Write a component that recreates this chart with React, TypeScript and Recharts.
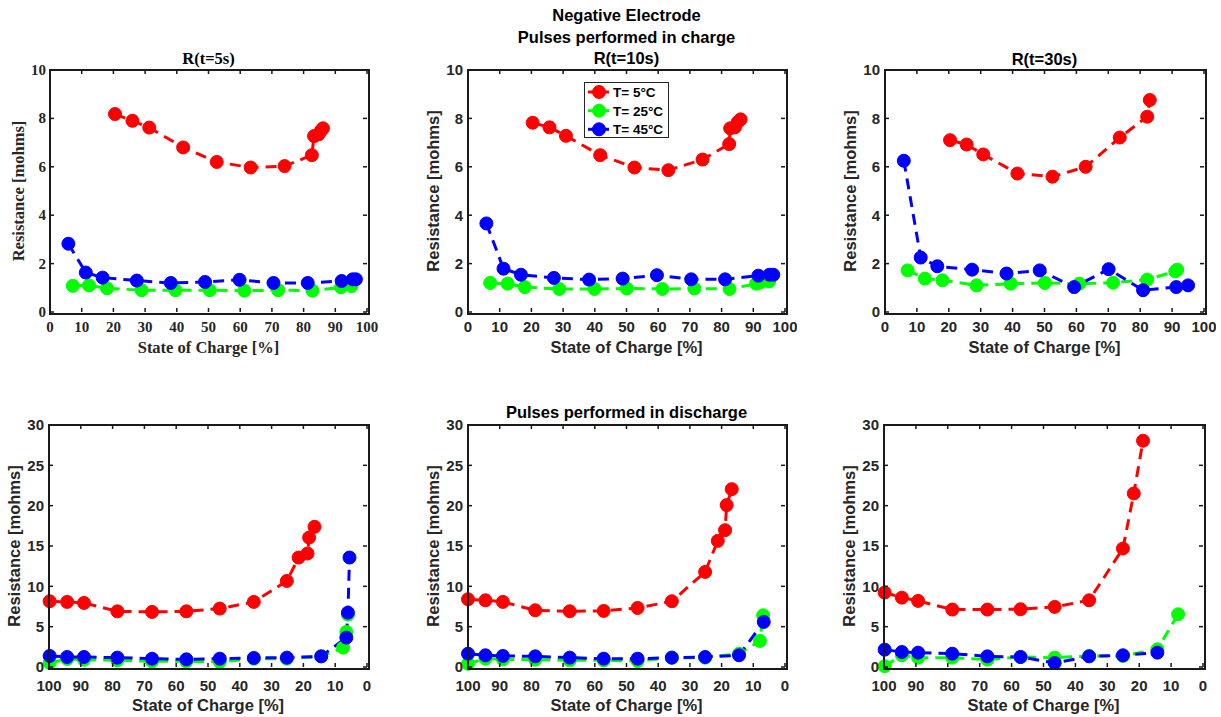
import React from 'react';
import { LineChart, Line, XAxis, YAxis } from 'recharts';

const SANS = '"Liberation Sans", Arial, Helvetica, sans-serif';
const SERIF = '"Liberation Serif", "Times New Roman", Times, serif';
const INK = '#262626';
const FRAME = '#1a1a1a';

const seriesNames = ['T= 5°C', 'T= 25°C', 'T= 45°C'];
const seriesColors = ['#ff0000', '#00ff00', '#0000ff'];

const socTicks = [0, 10, 20, 30, 40, 50, 60, 70, 80, 90, 100];
const chargeRTicks = [0, 2, 4, 6, 8, 10];
const dischargeRTicks = [0, 5, 10, 15, 20, 25, 30];

// ---- Pulses in charge, R(t=5s)
const c5_T5_soc = [20.5, 26, 31.3, 42, 52.6, 63.3, 74, 82.6, 83.3, 84.7, 85.5, 86.1];
const c5_T5_R = [8.18, 7.9, 7.62, 6.8, 6.2, 5.97, 6.03, 6.48, 7.27, 7.34, 7.49, 7.59];
const c5_T25_soc = [7.2, 12.3, 18, 28.9, 39.6, 50.4, 61.3, 72, 82.8, 91.8, 95.1];
const c5_T25_R = [1.08, 1.1, 0.98, 0.9, 0.9, 0.9, 0.88, 0.9, 0.88, 1.02, 1.07];
const c5_T45_soc = [5.8, 11.3, 16.6, 27.4, 38.1, 48.9, 59.8, 70.5, 81.3, 92, 95.5, 96.5];
const c5_T45_R = [2.82, 1.63, 1.42, 1.3, 1.2, 1.24, 1.33, 1.2, 1.2, 1.28, 1.35, 1.35];

// ---- Pulses in charge, R(t=10s)
const c10_T5_soc = [20.4, 25.7, 30.9, 41.7, 52.5, 63.2, 74, 82.4, 82.7, 84.2, 85.1, 86];
const c10_T5_R = [7.82, 7.63, 7.28, 6.48, 5.97, 5.86, 6.3, 6.94, 7.59, 7.63, 7.85, 7.96];
const c10_T25_soc = [7.0, 12.5, 17.9, 28.8, 39.9, 50.1, 61.3, 71.4, 82.5, 90.9, 92.1, 95];
const c10_T25_R = [1.2, 1.17, 1.03, 0.95, 0.95, 0.97, 0.95, 0.97, 0.95, 1.17, 1.21, 1.26];
const c10_T45_soc = [5.8, 11.2, 16.7, 27.1, 38.2, 48.8, 59.6, 70.4, 81.1, 91.6, 95.1, 96.3];
const c10_T45_R = [3.66, 1.79, 1.54, 1.41, 1.34, 1.38, 1.52, 1.35, 1.35, 1.5, 1.54, 1.54];

// ---- Pulses in charge, R(t=30s)
const c30_T5_soc = [20.4, 25.6, 30.8, 41.5, 52.5, 62.9, 73.6, 82.2, 83];
const c30_T5_R = [7.1, 6.92, 6.51, 5.72, 5.59, 6.0, 7.21, 8.07, 8.76];
const c30_T25_soc = [7.1, 12.5, 18, 28.7, 39.4, 50.1, 60.9, 71.5, 82.2, 91, 91.6];
const c30_T25_R = [1.72, 1.38, 1.31, 1.1, 1.17, 1.2, 1.17, 1.21, 1.34, 1.68, 1.75];
const c30_T45_soc = [5.9, 11.2, 16.4, 27.3, 38.1, 48.5, 59.3, 70.1, 80.9, 91.3, 95];
const c30_T45_R = [6.25, 2.25, 1.89, 1.75, 1.59, 1.72, 1.03, 1.77, 0.9, 1.03, 1.1];

// ---- Pulses in discharge, R(t=5s)
const d5_T5_soc = [99.8, 94.3, 89, 78.5, 67.6, 56.8, 46.3, 35.6, 25.2, 21.5, 18.7, 18.2, 16.5];
const d5_T5_R = [8.15, 8.07, 7.94, 6.9, 6.83, 6.9, 7.24, 8.07, 10.67, 13.57, 14.07, 16.05, 17.38];
const d5_T25_soc = [99.8, 94.3, 89, 78.5, 67.6, 56.8, 46.3, 35.6, 25.2, 14.4, 7.5, 6.5, 6.0];
const d5_T25_R = [0.5, 1.0, 0.9, 0.83, 0.7, 0.7, 0.62, 1.03, 1.03, 1.32, 2.4, 4.35, 6.5];
const d5_T45_soc = [99.8, 94.3, 89, 78.5, 67.6, 56.8, 46.3, 35.6, 25.2, 14.4, 6.5, 6.0, 5.5];
const d5_T45_R = [1.37, 1.24, 1.24, 1.16, 1.03, 0.95, 1.03, 1.12, 1.16, 1.32, 3.64, 6.74, 13.57];

// ---- Pulses in discharge, R(t=10s)
const d10_T5_soc = [100, 94.5, 89, 78.8, 67.9, 57.2, 46.5, 35.7, 25.2, 21.2, 18.9, 18.4, 16.8];
const d10_T5_R = [8.4, 8.27, 8.07, 7.03, 6.91, 6.95, 7.32, 8.15, 11.79, 15.64, 16.96, 20.07, 22.05];
const d10_T25_soc = [100, 94.5, 89, 78.8, 67.9, 57.2, 46.5, 35.7, 25.2, 14.5, 7.9, 6.9];
const d10_T25_R = [0.41, 1.03, 0.95, 0.91, 0.83, 0.83, 0.74, 1.16, 1.16, 1.65, 3.23, 6.41];
const d10_T45_soc = [100, 94.5, 89, 78.8, 67.9, 57.2, 46.5, 35.7, 25.2, 14.5, 6.7];
const d10_T45_R = [1.65, 1.45, 1.37, 1.32, 1.16, 1.03, 1.03, 1.16, 1.24, 1.45, 5.59];

// ---- Pulses in discharge, R(t=30s)
const d30_T5_soc = [99.8, 94.4, 89.3, 78.6, 67.6, 57.2, 46.5, 35.7, 25.1, 21.7, 18.8];
const d30_T5_R = [9.23, 8.6, 8.19, 7.12, 7.12, 7.16, 7.45, 8.27, 14.69, 21.51, 28.05];
const d30_T25_soc = [99.8, 94.4, 89.3, 78.6, 67.6, 57.2, 46.5, 35.7, 25.1, 14.3, 7.8];
const d30_T25_R = [0.1, 1.45, 1.16, 1.16, 0.91, 1.24, 1.16, 1.37, 1.37, 2.19, 6.54];
const d30_T45_soc = [99.8, 94.4, 89.3, 78.6, 67.6, 57.2, 46.5, 35.7, 25.1, 14.3];
const d30_T45_R = [2.15, 1.86, 1.78, 1.65, 1.32, 1.24, 0.5, 1.32, 1.45, 1.78];

type PanelProps = {
  left: number;
  top: number;
  w: number;
  h: number;
  font: string;
  yDomain: [number, number];
  yTicks: number[];
  reversed: boolean;
  socs: number[][];
  rs: number[][];
  xBase: number;
  yGap: number;
};

const ML = 60;
const MT = 12;
const MR = 12;
const MB = 40;
const TL = 4;

function Panel(p: PanelProps) {
  const series = p.socs.map((s, i) => s.map((x, j) => ({ x, y: p.rs[i][j] })));
  const plotTop = MT;
  const plotBottom = MT + p.h;
  const plotLeft = ML;
  const plotRight = ML + p.w;
  const textProps = { fontSize: 15, fontWeight: 700, fill: INK, fontFamily: p.font };
  const capHalf = p.font === SERIF ? 5 : 5.4;

  const XTick = (tp: any) => {
    const c = tp.payload.coordinate;
    return (
      <g>
        <rect x={c - 0.75} y={plotBottom - TL} width={1.5} height={TL} fill={FRAME} />
        <rect x={c - 0.75} y={plotTop} width={1.5} height={TL} fill={FRAME} />
        <text x={c} y={plotBottom + p.xBase} textAnchor="middle" {...textProps}>
          {tp.payload.value}
        </text>
      </g>
    );
  };
  const YTick = (tp: any) => {
    const c = tp.payload.coordinate;
    return (
      <g>
        <rect x={plotLeft} y={c - 0.75} width={TL} height={1.5} fill={FRAME} />
        <rect x={plotRight - TL} y={c - 0.75} width={TL} height={1.5} fill={FRAME} />
        <text x={plotLeft - p.yGap} y={c + capHalf} textAnchor="end" {...textProps}>
          {tp.payload.value}
        </text>
      </g>
    );
  };

  return (
    <div style={{ position: 'absolute', left: p.left - ML, top: p.top - MT, width: ML + p.w + MR, height: MT + p.h + MB }}>
      <LineChart width={ML + p.w + MR} height={MT + p.h + MB} margin={{ top: MT, right: MR, bottom: 0, left: 0 }}>
        <XAxis
          xAxisId="b"
          type="number"
          dataKey="x"
          domain={[0, 100]}
          ticks={socTicks}
          interval={0}
          reversed={p.reversed}
          orientation="bottom"
          height={MB}
          tick={XTick}
          axisLine={false}
          tickLine={false}
        />
        <YAxis
          yAxisId="l"
          type="number"
          domain={p.yDomain}
          ticks={p.yTicks}
          interval={0}
          orientation="left"
          width={ML}
          tick={YTick}
          axisLine={false}
          tickLine={false}
        />
        {series.map((pts, i) => (
          <Line
            key={seriesNames[i]}
            name={seriesNames[i]}
            data={pts}
            dataKey="y"
            xAxisId="b"
            yAxisId="l"
            type="linear"
            stroke={seriesColors[i]}
            strokeWidth={3}
            strokeDasharray="11 7"
            dot={{ r: 6.5, fill: seriesColors[i], stroke: seriesColors[i], strokeWidth: 1, strokeDasharray: 'none' }}
            activeDot={false}
            isAnimationActive={false}
          />
        ))}
      </LineChart>
      <div
        style={{
          position: 'absolute',
          left: ML - 1,
          top: MT - 1,
          width: p.w,
          height: p.h,
          border: `2px solid ${FRAME}`,
          pointerEvents: 'none',
        }}
      />
    </div>
  );
}

const topY = 70;
const topH = 242;
const botY = 425;
const botH = 242;

const panels: PanelProps[] = [
  { left: 50, top: topY, w: 317, h: topH, font: SERIF, yDomain: [0, 10], yTicks: chargeRTicks, reversed: false,
    socs: [c5_T5_soc, c5_T25_soc, c5_T45_soc], rs: [c5_T5_R, c5_T25_R, c5_T45_R], xBase: 20, yGap: 4 },
  { left: 468, top: topY, w: 317, h: topH, font: SANS, yDomain: [0, 10], yTicks: chargeRTicks, reversed: false,
    socs: [c10_T5_soc, c10_T25_soc, c10_T45_soc], rs: [c10_T5_R, c10_T25_R, c10_T45_R], xBase: 19.5, yGap: 5 },
  { left: 885, top: topY, w: 319, h: topH, font: SANS, yDomain: [0, 10], yTicks: chargeRTicks, reversed: false,
    socs: [c30_T5_soc, c30_T25_soc, c30_T45_soc], rs: [c30_T5_R, c30_T25_R, c30_T45_R], xBase: 19.5, yGap: 5 },
  { left: 49, top: botY, w: 318, h: botH, font: SANS, yDomain: [0, 30], yTicks: dischargeRTicks, reversed: true,
    socs: [d5_T5_soc, d5_T25_soc, d5_T45_soc], rs: [d5_T5_R, d5_T25_R, d5_T45_R], xBase: 23.5, yGap: 5 },
  { left: 468, top: botY, w: 317, h: botH, font: SANS, yDomain: [0, 30], yTicks: dischargeRTicks, reversed: true,
    socs: [d10_T5_soc, d10_T25_soc, d10_T45_soc], rs: [d10_T5_R, d10_T25_R, d10_T45_R], xBase: 23.5, yGap: 5 },
  { left: 884, top: botY, w: 319, h: botH, font: SANS, yDomain: [0, 30], yTicks: dischargeRTicks, reversed: true,
    socs: [d30_T5_soc, d30_T25_soc, d30_T45_soc], rs: [d30_T5_R, d30_T25_R, d30_T45_R], xBase: 23.5, yGap: 5 },
];

function Overlay() {
  const t = { fontSize: 16.5, fontWeight: 700 as const };
  return (
    <svg width={1221} height={717} style={{ position: 'absolute', left: 0, top: 0, pointerEvents: 'none' }}>
      <g fill="#000" fontFamily={SANS} textAnchor="middle" {...t}>
        <text x={626.5} y={21}>Negative Electrode</text>
        <text x={626.5} y={42.5}>Pulses performed in charge</text>
        <text x={626.5} y={64}>R(t=10s)</text>
        <text x={1044.5} y={64.5}>R(t=30s)</text>
        <text x={626.5} y={418}>Pulses performed in discharge</text>
      </g>
      <text x={208.5} y={64} fill="#000" fontFamily={SERIF} textAnchor="middle" {...t}>R(t=5s)</text>
      {panels.map((p, i) => {
        const isTop = p.top === topY;
        const cx = p.left + p.w / 2;
        const cy = p.top + p.h / 2;
        const xb = p.top + p.h + (isTop ? 41 : 44);
        const yb = p.left - (p.font === SERIF ? 26.5 : 29);
        return (
          <g key={i} fill={INK} fontFamily={p.font} textAnchor="middle" {...t}>
            <text x={cx} y={xb}>State of Charge [%]</text>
            <text x={yb} y={cy} transform={`rotate(-90 ${yb} ${cy})`}>Resistance [mohms]</text>
          </g>
        );
      })}
    </svg>
  );
}

function LegendBox() {
  const rows = [92, 110.7, 129.3];
  const left = 584;
  const top = 82;
  return (
    <svg width={86} height={57} style={{ position: 'absolute', left, top }}>
      <rect x={0.5} y={0.5} width={84} height={55} fill="#fff" stroke={INK} strokeWidth={1} />
      {seriesNames.map((n, i) => {
        const y = rows[i] - top;
        return (
          <g key={n}>
            <line x1={4} x2={25} y1={y} y2={y} stroke={seriesColors[i]} strokeWidth={3} />
            <circle cx={15} cy={y} r={6.5} fill={seriesColors[i]} stroke={seriesColors[i]} strokeWidth={1} />
            <text x={29} y={y + 5} fontFamily={SANS} fontWeight={700} fontSize={13.5} fill="#000">{n}</text>
          </g>
        );
      })}
    </svg>
  );
}

export default function App() {
  return (
    <div style={{ position: 'absolute', left: 0, top: 0, width: 1221, height: 717, background: '#fff', overflow: 'hidden' }}>
      {panels.map((p, i) => (
        <Panel key={i} {...p} />
      ))}
      <Overlay />
      <LegendBox />
    </div>
  );
}
